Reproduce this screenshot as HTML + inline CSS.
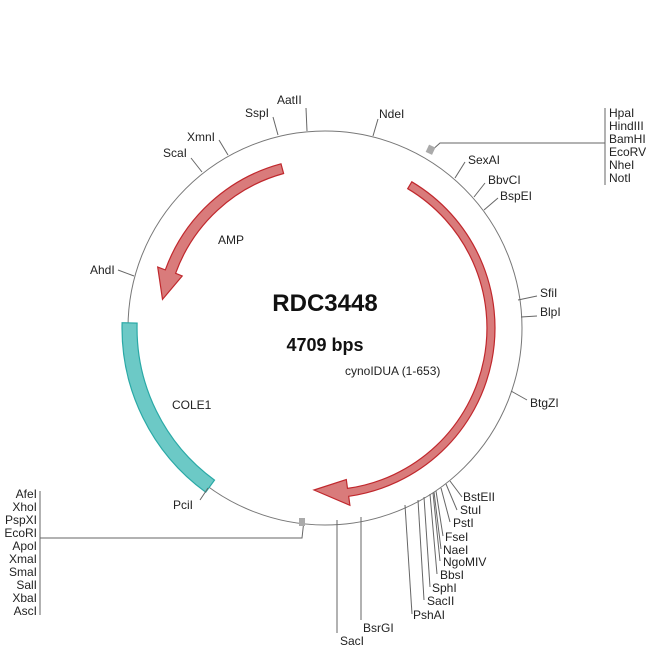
<!DOCTYPE html>
<html><head><meta charset="utf-8"><style>
html,body{margin:0;padding:0;background:#fff;}
svg{display:block;}
text{font-family:"Liberation Sans",sans-serif;font-size:12px;fill:#222;}
</style></head><body>
<svg width="650" height="650" viewBox="0 0 650 650" xmlns="http://www.w3.org/2000/svg">
<circle cx="325" cy="328" r="197" fill="none" stroke="#777" stroke-width="1"/>
<!-- COLE1 -->
<path d="M205.7,492.2 A203 203 0 0 1 122.1,322.7 L137.1,323.1 A188 188 0 0 0 214.5,480.1 Z" fill="#6cc9c6" stroke="#2aa9a6" stroke-width="1.2"/>
<!-- AMP -->
<path d="M281.0,163.8 A170 170 0 0 0 165.3,269.9 L157.7,267.1 L162.5,299.4 L182.2,276.0 L175.6,273.3 A160 160 0 0 1 283.6,173.5 Z" fill="#d97b7b" stroke="#c0282d" stroke-width="1.2"/>
<!-- cynoIDUA -->
<path d="M411.8,181.8 A170 170 0 0 1 348.7,496.3 L349.9,505.3 L314,490 L346.3,479.5 L347.5,488.4 A162 162 0 0 0 407.7,188.7 Z" fill="#d97b7b" stroke="#c0282d" stroke-width="1.2"/>

<g stroke="#666" stroke-width="1" fill="none">
<line x1="373" y1="136" x2="378" y2="119"/>
<line x1="306" y1="108" x2="307" y2="131"/>
<line x1="273" y1="117" x2="278" y2="135"/>
<line x1="219" y1="140" x2="228" y2="155"/>
<line x1="191" y1="158" x2="202" y2="172"/>
<line x1="118" y1="270" x2="134" y2="276"/>
<line x1="200" y1="500" x2="208" y2="488"/>
<line x1="465" y1="162" x2="455" y2="178"/>
<line x1="485" y1="183" x2="474" y2="197"/>
<line x1="498" y1="198" x2="484" y2="210"/>
<line x1="537" y1="296" x2="518" y2="300"/>
<line x1="537" y1="316" x2="521" y2="317"/>
<line x1="527" y1="400" x2="511" y2="391"/>
<line x1="450" y1="481" x2="462" y2="497"/>
<line x1="446" y1="484" x2="457" y2="510"/>
<line x1="441" y1="488" x2="450" y2="522"/>
<line x1="436" y1="491" x2="443" y2="536"/>
<line x1="434" y1="492" x2="441" y2="549"/>
<line x1="433" y1="493" x2="440" y2="561"/>
<line x1="430" y1="494" x2="437" y2="574"/>
<line x1="424" y1="497" x2="430" y2="587"/>
<line x1="418" y1="500" x2="424" y2="600"/>
<line x1="405" y1="505" x2="412" y2="614"/>
<line x1="361" y1="517" x2="361" y2="620"/>
<line x1="337" y1="520" x2="337" y2="633"/>
<polyline points="430,152 440,143 605,143"/>
<line x1="605" y1="108" x2="605" y2="185"/>
<polyline points="304,520 302,538 40,538"/>
<line x1="40" y1="491" x2="40" y2="615"/>
</g>
<rect x="427" y="146" width="7" height="8" fill="#aaa" transform="rotate(25 431 150)"/>
<rect x="299" y="518" width="6" height="8" fill="#aaa"/>

<text x="379" y="118">NdeI</text>
<text x="277" y="104">AatII</text>
<text x="245" y="117">SspI</text>
<text x="187" y="141">XmnI</text>
<text x="163" y="157">ScaI</text>
<text x="90" y="274">AhdI</text>
<text x="173" y="509">PciI</text>
<text x="468" y="164">SexAI</text>
<text x="488" y="184">BbvCI</text>
<text x="500" y="200">BspEI</text>
<text x="540" y="297">SfiI</text>
<text x="540" y="316">BlpI</text>
<text x="530" y="407">BtgZI</text>
<text x="463" y="501">BstEII</text>
<text x="460" y="514">StuI</text>
<text x="453" y="527">PstI</text>
<text x="445" y="541">FseI</text>
<text x="443" y="554">NaeI</text>
<text x="443" y="566">NgoMIV</text>
<text x="440" y="579">BbsI</text>
<text x="432" y="592">SphI</text>
<text x="427" y="605">SacII</text>
<text x="413" y="619">PshAI</text>
<text x="363" y="632">BsrGI</text>
<text x="340" y="645">SacI</text>
<g>
<text x="609" y="117">HpaI</text>
<text x="609" y="130">HindIII</text>
<text x="609" y="143">BamHI</text>
<text x="609" y="156">EcoRV</text>
<text x="609" y="169">NheI</text>
<text x="609" y="182">NotI</text>
</g>
<g text-anchor="end">
<text x="37" y="498">AfeI</text>
<text x="37" y="511">XhoI</text>
<text x="37" y="524">PspXI</text>
<text x="37" y="537">EcoRI</text>
<text x="37" y="550">ApoI</text>
<text x="37" y="563">XmaI</text>
<text x="37" y="576">SmaI</text>
<text x="37" y="589">SalI</text>
<text x="37" y="602">XbaI</text>
<text x="37" y="615">AscI</text>
</g>
<text x="218" y="244">AMP</text>
<text x="172" y="409">COLE1</text>
<text x="345" y="375">cynoIDUA (1-653)</text>
<text x="325" y="311" text-anchor="middle" style="font-size:24px;font-weight:bold;fill:#111">RDC3448</text>
<text x="325" y="351" text-anchor="middle" style="font-size:18px;font-weight:bold;fill:#111">4709 bps</text>
</svg>
</body></html>
